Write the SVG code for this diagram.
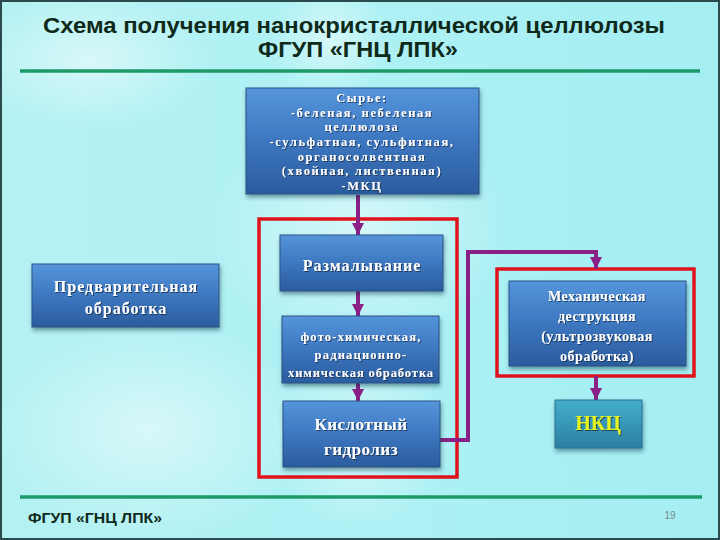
<svg xmlns="http://www.w3.org/2000/svg" width="720" height="540" viewBox="0 0 720 540">
<defs>
<linearGradient id="gBox" x1="0" y1="0" x2="0" y2="1">
<stop offset="0" stop-color="#5595db"/>
<stop offset="0.5" stop-color="#3d77c0"/>
<stop offset="1" stop-color="#2b5c9e"/>
</linearGradient>
<linearGradient id="gTeal" x1="0" y1="0" x2="0" y2="1">
<stop offset="0" stop-color="#45aecb"/>
<stop offset="1" stop-color="#2a7fa2"/>
</linearGradient>
<radialGradient id="glow" cx="0.5" cy="0.5" r="0.5">
<stop offset="0" stop-color="#ffffff" stop-opacity="0.9"/>
<stop offset="1" stop-color="#ffffff" stop-opacity="0"/>
</radialGradient>
<linearGradient id="bg" x1="0" y1="0" x2="1" y2="0">
<stop offset="0" stop-color="#b4f1f3"/>
<stop offset="0.5" stop-color="#aef1f4"/>
<stop offset="1" stop-color="#a4eef2"/>
</linearGradient>
<filter id="sh" x="-10%" y="-10%" width="125%" height="135%">
<feDropShadow dx="1" dy="3" stdDeviation="2" flood-color="#0a2a40" flood-opacity="0.45"/>
</filter>
<filter id="tsh" x="-10%" y="-20%" width="120%" height="150%">
<feDropShadow dx="1" dy="1" stdDeviation="0.6" flood-color="#10203a" flood-opacity="0.7"/>
</filter>
<marker id="ah" viewBox="0 0 10 10" refX="10" refY="5" markerWidth="3" markerHeight="3" orient="auto" markerUnits="strokeWidth">
<path d="M0,0 L10,5 L0,10 z" fill="#8a1f86"/>
</marker>
<style>
.box{fill:url(#gBox);stroke:#2b5283;stroke-width:1;filter:url(#sh)}
.t{font-family:"Liberation Serif","Times New Roman",serif;font-weight:bold;fill:#ffffff;text-anchor:middle;filter:url(#tsh)}
.raw{font-size:12.5px;letter-spacing:1.6px}
.title{font-family:"Liberation Sans",Arial,sans-serif;font-weight:bold;fill:#0f2a1a;text-anchor:middle}
.conn{fill:none;stroke:#8a1f86;stroke-width:4}
.red{fill:none;stroke:#e0131c;stroke-width:3.5}
.gl{stroke:#1e9a68;stroke-width:3.5}
</style>
</defs>

<!-- background -->
<rect x="0" y="0" width="720" height="540" fill="url(#bg)"/>
<g opacity="0.55">
<ellipse cx="150" cy="430" rx="160" ry="110" fill="url(#glow)"/>
<ellipse cx="360" cy="440" rx="90" ry="90" fill="url(#glow)"/>
<ellipse cx="90" cy="60" rx="120" ry="70" fill="url(#glow)"/>
<ellipse cx="360" cy="230" rx="150" ry="120" fill="url(#glow)"/>
<ellipse cx="330" cy="40" rx="60" ry="60" fill="url(#glow)"/>
</g>
<rect x="1" y="1" width="718" height="538" fill="none" stroke="#2b4a4e" stroke-width="2"/>

<!-- title -->
<text class="title" x="354" y="33" font-size="22" textLength="622" lengthAdjust="spacingAndGlyphs">Схема получения нанокристаллической целлюлозы</text>
<text class="title" x="358" y="57" font-size="22" textLength="200" lengthAdjust="spacingAndGlyphs">ФГУП «ГНЦ ЛПК»</text>
<line class="gl" x1="20" y1="71" x2="700" y2="71"/>
<line class="gl" x1="20" y1="497" x2="702" y2="497"/>
<text x="28" y="523" font-family="'Liberation Sans',Arial,sans-serif" font-weight="bold" font-size="15" fill="#0f2a1a" textLength="134" lengthAdjust="spacingAndGlyphs">ФГУП «ГНЦ ЛПК»</text>
<text x="670" y="519" font-family="'Liberation Sans',Arial,sans-serif" font-size="10" fill="#7a8a8a" text-anchor="middle">19</text>

<!-- red frames -->
<rect class="red" x="259" y="219" width="198" height="258"/>
<rect class="red" x="497" y="269" width="197" height="107"/>

<!-- connectors -->
<g id="connectors">
<path class="conn" d="M358,195 V235" marker-end="url(#ah)"/>
<path class="conn" d="M358,291 V316" marker-end="url(#ah)"/>
<path class="conn" d="M358,383 V401" marker-end="url(#ah)"/>
<path class="conn" d="M440,440 H468 V252 H596 V269" marker-end="url(#ah)"/>
<path class="conn" d="M596,376 V400" marker-end="url(#ah)"/>
</g>

<!-- nodes -->
<g id="raw">
<rect class="box" x="246" y="88" width="233" height="106"/>
<text class="t raw" x="362" y="102">Сырье:</text>
<text class="t raw" x="362" y="116.7">-беленая, небеленая</text>
<text class="t raw" x="362" y="131.4">целлюлоза</text>
<text class="t raw" x="362" y="146">-сульфатная, сульфитная,</text>
<text class="t raw" x="362" y="160.7">органосолвентная</text>
<text class="t raw" x="362" y="175.4">(хвойная, лиственная)</text>
<text class="t raw" x="362" y="190">-МКЦ</text>
</g>
<g id="pretreat">
<rect class="box" x="32" y="264" width="187" height="63"/>
<text class="t" font-size="16" x="126" y="292" letter-spacing="1">Предварительная</text>
<text class="t" font-size="16" x="126" y="314" letter-spacing="1">обработка</text>
</g>
<g id="grind">
<rect class="box" x="280" y="235" width="163" height="56"/>
<text class="t" font-size="16" x="362" y="271" letter-spacing="1">Размалывание</text>
</g>
<g id="photo">
<rect class="box" x="282" y="316" width="157" height="67"/>
<text class="t" font-size="12.5" x="361" y="341" letter-spacing="1.2">фото-химическая,</text>
<text class="t" font-size="12.5" x="361" y="359" letter-spacing="1.2">радиационно-</text>
<text class="t" font-size="12.5" x="361" y="377" letter-spacing="0.9">химическая обработка</text>
</g>
<g id="hydro">
<rect class="box" x="283" y="401" width="157" height="66"/>
<text class="t" font-size="17" x="361" y="430" letter-spacing="0.5">Кислотный</text>
<text class="t" font-size="17" x="361" y="455" letter-spacing="0.5">гидролиз</text>
</g>
<g id="mech">
<rect class="box" x="509" y="281" width="177" height="85"/>
<text class="t" font-size="14" x="597" y="301" letter-spacing="0.5">Механическая</text>
<text class="t" font-size="14" x="597" y="321" letter-spacing="0.5">деструкция</text>
<text class="t" font-size="14" x="597" y="341" letter-spacing="0.5">(ультрозвуковая</text>
<text class="t" font-size="14" x="597" y="361" letter-spacing="0.5">обработка)</text>
</g>
<g id="nkc">
<rect x="555" y="400" width="87" height="48" fill="url(#gTeal)" stroke="#2a7090" stroke-width="1" filter="url(#sh)"/>
<text class="t" font-size="20" x="598" y="430" style="fill:#e6f21e">НКЦ</text>
</g>
</svg>
